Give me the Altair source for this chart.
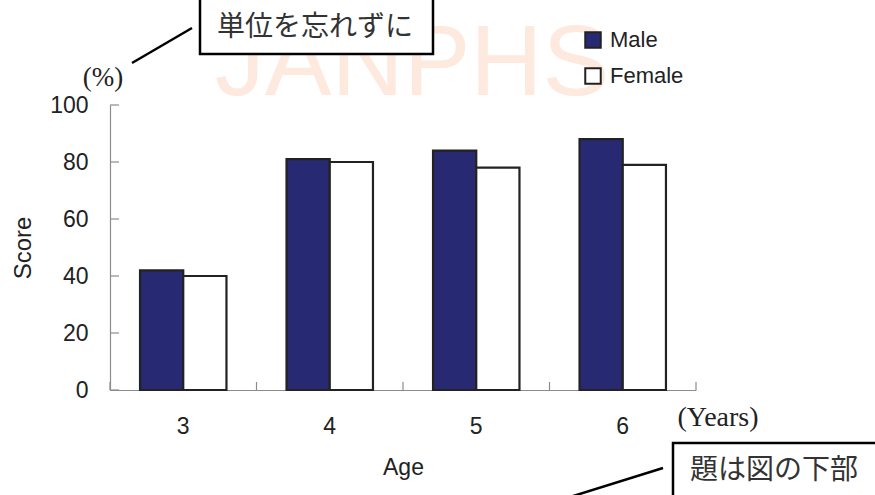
import altair as alt
import pandas as pd

ages = ["3", "4", "5", "6"]
sexes = ["Male", "Female"]
male = [42, 81, 84, 88]
female = [40, 80, 78, 79]
y_ticks = [0, 20, 40, 60, 80, 100]

rows = []
for a, m, f in zip(ages, male, female):
    rows.append({"Age": a, "Sex": "Male", "Score": m})
    rows.append({"Age": a, "Sex": "Female", "Score": f})
df = pd.DataFrame(rows)

SANS = "Liberation Sans"
SERIF = "Liberation Serif"
CJK = "Noto Sans CJK JP"
TXT = "#222222"

xscale = alt.Scale(paddingInner=0, paddingOuter=0)
yscale = alt.Scale(domain=[0, 100])

xaxis = alt.Axis(title="Age", labelAngle=0, ticks=False, domainColor="#8c8c8c",
                 domainWidth=1.2, labelPadding=25, titlePadding=18,
                 labelFontSize=23, titleFontSize=23, titleFontWeight="normal",
                 labelFont=SANS, titleFont=SANS, labelColor=TXT, titleColor=TXT)
yaxis = alt.Axis(title="Score", values=y_ticks, ticks=False, grid=False,
                 domainColor="#8c8c8c", domainWidth=1.2, labelPadding=22,
                 titlePadding=14, labelFontSize=23, titleFontSize=24,
                 titleFontWeight="normal", labelFont=SANS, titleFont=SANS,
                 labelColor=TXT, titleColor=TXT)

bars = alt.Chart(df).mark_bar(stroke="#222222", strokeWidth=2.2).encode(
    x=alt.X("Age:N", sort=ages, scale=xscale, axis=xaxis),
    xOffset=alt.XOffset("Sex:N", sort=sexes, scale=alt.Scale(paddingInner=0, paddingOuter=0.695)),
    y=alt.Y("Score:Q", scale=yscale, axis=yaxis),
    color=alt.Color("Sex:N", sort=sexes,
                    scale=alt.Scale(domain=sexes, range=["#272a72", "#ffffff"]),
                    legend=alt.Legend(title=None, orient="none", legendX=472, legendY=-76,
                                      symbolType="square", symbolSize=240,
                                      symbolStrokeColor="#222222", symbolStrokeWidth=2,
                                      symbolOpacity=1, labelFontSize=22, labelFont=SANS,
                                      labelColor=TXT, rowPadding=12, labelOffset=6)),
)

ytick_df = pd.DataFrame({"Score": y_ticks})
yticks = alt.Chart(ytick_df).mark_rule(color="#8c8c8c", strokeWidth=1.2).encode(
    y=alt.Y("Score:Q", scale=yscale, axis=yaxis),
    x=alt.value(0), x2=alt.value(9),
)

xtick_df = pd.DataFrame({"Age": ages})
xticks = alt.Chart(xtick_df).mark_rule(color="#8c8c8c", strokeWidth=1.2).encode(
    x=alt.X("Age:N", sort=ages, scale=xscale, bandPosition=0, axis=xaxis),
    y=alt.value(285), y2=alt.value(277),
)
xtick_end = alt.Chart(pd.DataFrame({"Age": [ages[-1]]})).mark_rule(color="#8c8c8c", strokeWidth=1.2).encode(
    x=alt.X("Age:N", sort=ages, scale=xscale, bandPosition=1, axis=xaxis),
    y=alt.value(285), y2=alt.value(277),
)

watermark = alt.Chart(pd.DataFrame({"t": ["JANPHS"]})).mark_text(
    font=SANS, fontSize=100, color="#fde9de", align="center", baseline="middle"
).encode(text="t:N", x=alt.value(302), y=alt.value(-40))

pct = alt.Chart(pd.DataFrame({"t": ["(%)"]})).mark_text(
    font=SERIF, fontSize=27, color=TXT, align="center", baseline="middle"
).encode(text="t:N", x=alt.value(-7), y=alt.value(-27))

years = alt.Chart(pd.DataFrame({"t": ["(Years)"]})).mark_text(
    font=SERIF, fontSize=28, color=TXT, align="center", baseline="middle"
).encode(text="t:N", x=alt.value(608), y=alt.value(313))

line1 = alt.Chart(pd.DataFrame({"a": [0]})).mark_rule(color="black", strokeWidth=2.5).encode(
    x=alt.value(22), y=alt.value(-42), x2=alt.value(82), y2=alt.value(-77))
box1 = alt.Chart(pd.DataFrame({"a": [0]})).mark_rect(fill="white", stroke="black", strokeWidth=2.5).encode(
    x=alt.value(90), x2=alt.value(323), y=alt.value(-110), y2=alt.value(-51))
box1_text = alt.Chart(pd.DataFrame({"t": ["単位を忘れずに"]})).mark_text(
    font=CJK, fontSize=28, color="#333333", align="center", baseline="middle"
).encode(text="t:N", x=alt.value(205), y=alt.value(-77))

line2 = alt.Chart(pd.DataFrame({"a": [0]})).mark_rule(color="black", strokeWidth=2.5).encode(
    x=alt.value(460), y=alt.value(392), x2=alt.value(553), y2=alt.value(363))
box2 = alt.Chart(pd.DataFrame({"a": [0]})).mark_rect(fill="white", stroke="black", strokeWidth=2.5).encode(
    x=alt.value(563), x2=alt.value(775), y=alt.value(338), y2=alt.value(400))
box2_text = alt.Chart(pd.DataFrame({"t": ["題は図の下部"]})).mark_text(
    font=CJK, fontSize=28, color="#333333", align="center", baseline="middle"
).encode(text="t:N", x=alt.value(664), y=alt.value(366))

chart = alt.layer(
    watermark, bars, yticks, xticks, xtick_end, pct, years,
    line1, box1, box1_text, line2, box2, box2_text
).properties(
    width=586, height=285,
    padding={"left": 110, "top": 105, "right": 179, "bottom": 105},
    autosize=alt.AutoSizeParams(type="none"),
    background="white",
).configure_view(strokeWidth=0)

chart.save("out.html", embed_options={"renderer": "svg", "actions": False})
